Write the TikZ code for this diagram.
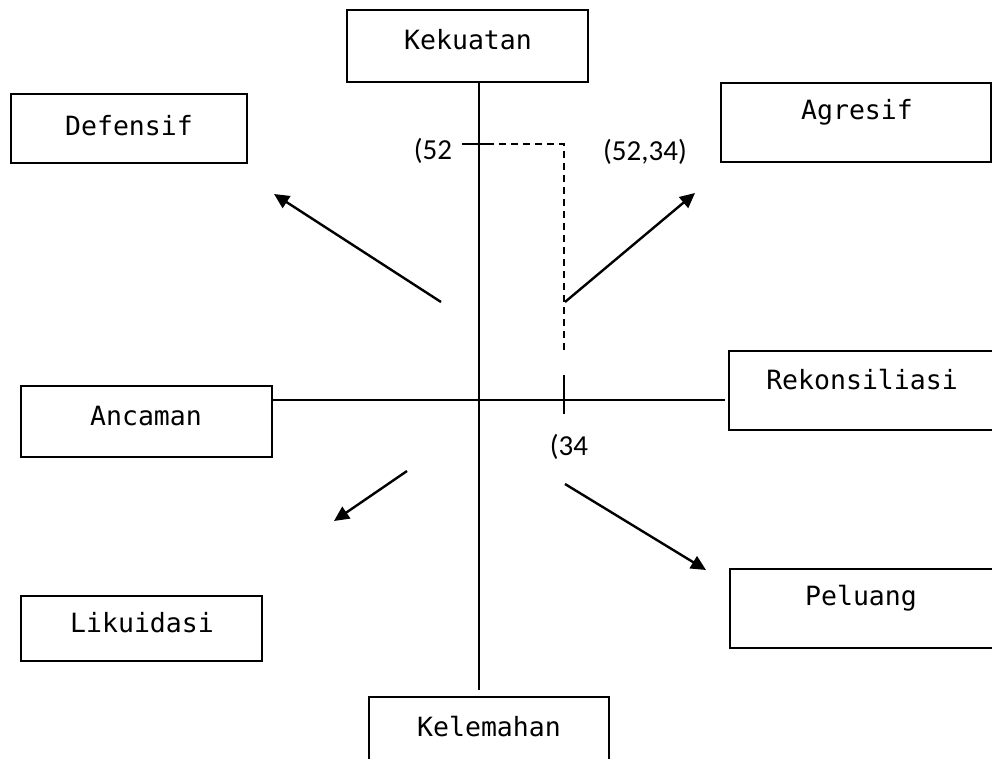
\documentclass[tikz,border=0pt]{standalone}
\usepackage{fontspec}
\setmonofont{DejaVu Sans Mono}
\newfontfamily\lblfont{Carlito}
\usetikzlibrary{arrows.meta}
\begin{document}
\begin{tikzpicture}[x=1pt,y=-1pt,
  box/.style={draw,line width=1.9pt,inner sep=0pt},
  boxtext/.style={font=\ttfamily\fontsize{26.5}{30}\selectfont,inner sep=0pt},
  coordtext/.style={font=\lblfont\fontsize{29}{32}\selectfont,inner sep=0pt},
  axis/.style={line width=1.9pt},
  arr/.style={line width=2.4pt,-{Triangle[length=15pt,width=14pt]}}]
\clip (0,0) rectangle (992,759);
\fill[white] (0,0) rectangle (992,759);
% boxes
\node[box,minimum width=241pt,minimum height=72pt] (kek) at (467.5,46) {};
\node[box,minimum width=236pt,minimum height=69pt] (def) at (129,128.5) {};
\node[box,minimum width=270pt,minimum height=79pt] (agr) at (856,122.5) {};
\node[box,minimum width=251pt,minimum height=71pt] (anc) at (146.5,421.5) {};
\node[box,minimum width=271pt,minimum height=79pt] (rek) at (864.5,390.5) {};
\node[box,minimum width=241pt,minimum height=65pt] (lik) at (141.5,628.5) {};
\node[box,minimum width=270pt,minimum height=79pt] (pel) at (865,608.5) {};
\node[box,minimum width=240pt,minimum height=73pt] (kel) at (489,733.5) {};
% texts
\node[boxtext] (tkek) at (468,40) {Kekuatan};
\node[boxtext] (tdef) at (129,126) {Defensif};
\node[boxtext] (tagr) at (857,112) {Agresif};
\node[boxtext] (tanc) at (146,416) {Ancaman};
\node[boxtext] (trek) at (862,380) {Rekonsiliasi};
\node[boxtext] (tlik) at (142,623) {Likuidasi};
\node[boxtext] (tpel) at (861,598) {Peluang};
\node[boxtext] (tkel) at (489,727) {Kelemahan};
% axes
\coordinate (o) at (479,400);
\coordinate (vtop) at (479,82);
\coordinate (vbot) at (479,690);
\coordinate (hend) at (725,400);
\draw[axis] (vtop) -- (vbot);
\draw[axis] (anc.east |- o) -- (hend);
% point markers
\coordinate (t52a) at (462,144);
\coordinate (t52b) at (487,144);
\coordinate (cor) at (564,144);
\coordinate (dend) at (564,350);
\coordinate (t34a) at (564,375);
\coordinate (t34b) at (564,414);
\draw[axis] (t52a) -- (t52b);
\draw[line width=1.5pt,dash pattern=on 7pt off 5pt] (t52b) -- (cor) -- (dend);
\draw[axis] (t34a) -- (t34b);
\node[coordtext] (l52) at (433,151) {(52};
\node[coordtext] (l5234) at (645,152) {(52,34)};
\node[coordtext] (l34) at (569,447) {(34};
% arrows
\coordinate (a1s) at (441,302); \coordinate (a1e) at (274,194);
\coordinate (a2s) at (565,302); \coordinate (a2e) at (695,193);
\coordinate (a3s) at (407,471); \coordinate (a3e) at (334,521);
\coordinate (a4s) at (565,484); \coordinate (a4e) at (706,570);
\draw[arr] (a1s) -- (a1e);
\draw[arr] (a2s) -- (a2e);
\draw[arr] (a3s) -- (a3e);
\draw[arr] (a4s) -- (a4e);
\end{tikzpicture}
\end{document}
